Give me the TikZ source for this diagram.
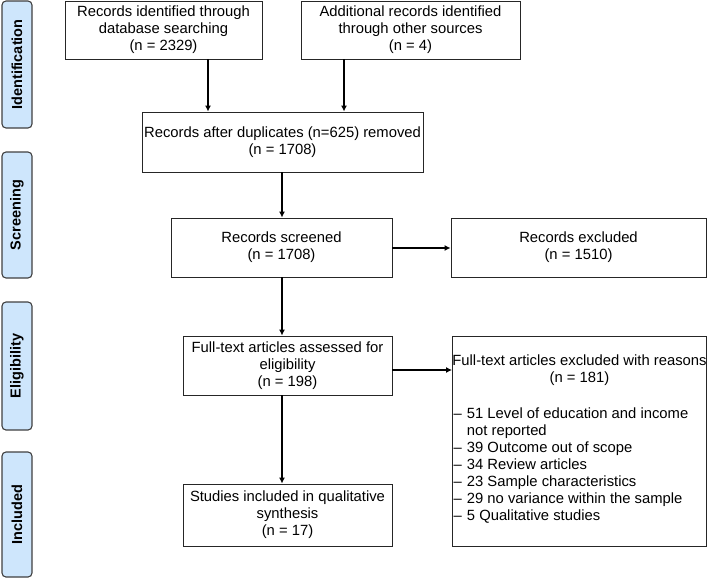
\documentclass[tikz,border=0pt]{standalone}
\usepackage{fontspec}
\setmainfont{Liberation Sans}
\usetikzlibrary{arrows.meta}
\definecolor{stagefill}{RGB}{206,230,252}
\definecolor{stageline}{RGB}{64,64,64}
\begin{document}
\begin{tikzpicture}[x=1pt,y=-1pt,
  box/.style={draw=black!85,line width=0.9pt,inner sep=0pt,align=center,
    font=\fontsize{14.8}{17}\selectfont},
  stage/.style={draw=stageline,fill=stagefill,line width=1.1pt,rounded corners=4pt,
    inner sep=0pt,minimum width=30pt},
  stagetext/.style={rotate=90,font=\fontsize{14.5}{16}\selectfont\bfseries},
  arr/.style={line width=1.6pt,-{Latex[length=6pt,width=6pt]}},
  txt/.style={inner sep=0pt,align=center,font=\fontsize{14.8}{17}\selectfont}
]
\useasboundingbox (0,0) rectangle (708,581);
% stage labels
\node[stage,minimum height=127pt] (sid) at (17,64.5) {};
\node[stagetext] (tid) at (sid.center) {Identification};
\node[stage,minimum height=126pt] (ssc) at (17,215) {};
\node[stagetext] (tsc) at (ssc.center) {Screening};
\node[stage,minimum height=128pt] (sel) at (17,366) {};
\node[stagetext] (tel) at (sel.center) {Eligibility};
\node[stage,minimum height=125pt] (sin) at (17,514.5) {};
\node[stagetext] (tin) at (sin.center) {Included};
% boxes
\node[box,minimum width=197pt,minimum height=58pt] (b1) at (163.5,30)
  {Records identified through\\database searching\\(n = 2329)};
\node[box,minimum width=219pt,minimum height=58pt] (b2) at (410.5,30)
  {Additional records identified\\through other sources\\(n = 4)};
\node[box,minimum width=281pt,minimum height=60pt] (b3) at (282.5,142)
  {Records after duplicates (n=625) removed\\(n = 1708)};
\node[box,minimum width=221pt,minimum height=59pt] (b4) at (281.5,247.5)
  {Records screened\\(n = 1708)};
\node[box,minimum width=255pt,minimum height=59pt] (e1) at (578.5,247.5)
  {Records excluded\\(n = 1510)};
\node[box,minimum width=209pt,minimum height=59pt] (b5) at (287.5,365.5)
  {Full-text articles assessed for\\eligibility\\(n = 198)};
\node[box,minimum width=254pt,minimum height=210pt] (e2) at (579.5,441) {};
\node[txt] (e2h) at (579.5,370) {Full-text articles excluded with reasons\\(n = 181)};
\node[txt,anchor=west] (e2l) at (453.5,466.5) {%
  \begin{tabular}{@{}l@{\hspace{5pt}}l@{}}
  -- & 51 Level of education and income\\
     & not reported\\
  -- & 39 Outcome out of scope\\
  -- & 34 Review articles\\
  -- & 23 Sample characteristics\\
  -- & 29 no variance within the sample\\
  -- & 5 Qualitative studies
  \end{tabular}};
\node[box,minimum width=209pt,minimum height=62pt] (b6) at (287.5,515)
  {Studies included in qualitative\\synthesis\\(n = 17)};
% connectors
\coordinate (c1) at (208,0);
\coordinate (c2) at (344,0);
\coordinate (c3) at (0,370);
\coordinate (c4) at (282,0);
\coordinate (c5) at (0,248);
\draw[arr] (b1.south -| c1) -- (b3.north -| c1);
\draw[arr] (b2.south -| c2) -- (b3.north -| c2);
\draw[arr] (b3.south -| c4) -- (b4.north -| c4);
\draw[arr] (b4.east |- c5) -- (e1.west |- c5);
\draw[arr] (b4.south -| c4) -- (b5.north -| c4);
\draw[arr] (b5.east |- c3) -- (e2.west |- c3);
\draw[arr] (b5.south -| c4) -- (b6.north -| c4);
\end{tikzpicture}
\end{document}
